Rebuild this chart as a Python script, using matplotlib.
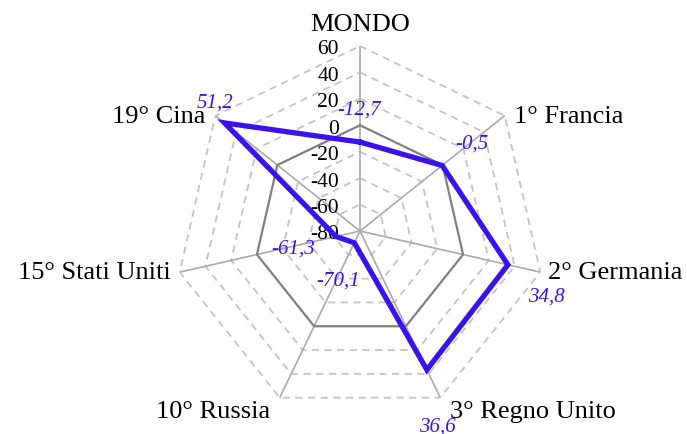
import numpy as np
import matplotlib
matplotlib.use("Agg")
import matplotlib.pyplot as plt

plt.rcParams['font.family'] = ['Liberation Serif', 'DejaVu Serif']

categories = ['MONDO', '1° Francia', '2° Germania', '3° Regno Unito',
              '10° Russia', '15° Stati Uniti', '19° Cina']
values = [-12.7, -0.5, 34.8, 36.6, -70.1, -61.3, 51.2]
value_labels = ['-12,7', '-0,5', '34,8', '36,6', '-70,1', '-61,3', '51,2']
ticks = [60, 40, 20, 0, -20, -40, -60, -80]

# label offsets in pixels (dx, dy) relative to each point
label_offsets = [(-1, 33), (30, 22), (39, -31), (11, -56), (-16, -37), (-43, -12), (-9, 21)]

RMIN, RMAX = -80, 60
BLUE = '#3b12ec'

fig = plt.figure(figsize=(6.87, 4.35), dpi=100)
ax = fig.add_axes([175 / 687, 18 / 435, 370 / 687, 370 / 435], projection='polar')
ax.set_theta_zero_location('N')
ax.set_theta_direction(-1)
ax.set_ylim(RMIN, RMAX)
ax.axis('off')

n = len(categories)
theta = np.linspace(0, 2 * np.pi, n, endpoint=False)
theta_c = np.append(theta, theta[0])

# grid rings
for t in ticks:
    if t == RMIN:
        continue
    if t == 0:
        ax.plot(theta_c, [t] * (n + 1), color='#808080', lw=1.6, zorder=2)
    else:
        ax.plot(theta_c, [t] * (n + 1), color='#c4c4c4', lw=1.3,
                ls=(0, (4, 3)), zorder=1)

# spokes
for th in theta:
    ax.plot([th, th], [RMIN, RMAX], color='#aaaaaa', lw=1.2, zorder=1)

# data
vals_c = values + [values[0]]
ax.plot(theta_c, vals_c, color=BLUE, lw=3.8, zorder=4, solid_joinstyle='miter')

for th, v, lab, (dx, dy) in zip(theta, values, value_labels, label_offsets):
    ax.annotate(lab, (th, v), xytext=(dx, dy), textcoords='offset pixels',
                ha='center', va='center', color=BLUE, style='italic',
                fontsize=15, zorder=5)

# tick labels on the top spoke
for t in ticks:
    ax.annotate(str(t), (0, t), xytext=(-21, -3), textcoords='offset pixels',
                ha='right', va='center', fontsize=15.5, zorder=3)

# category labels
cat_offsets = [(0, 22), (9, 0), (8, 0), (10, -13), (-10, -13), (-9, 0), (-10, 0)]
for th, cat, (dx, dy) in zip(theta, categories, cat_offsets):
    s = np.sin(th)
    ha = 'center' if abs(s) < 0.1 else ('left' if s > 0 else 'right')
    ax.annotate(cat, (th, RMAX), xytext=(dx, dy), textcoords='offset pixels',
                ha=ha, va='center', fontsize=19, annotation_clip=False)

fig.savefig('out.png', dpi=100)
